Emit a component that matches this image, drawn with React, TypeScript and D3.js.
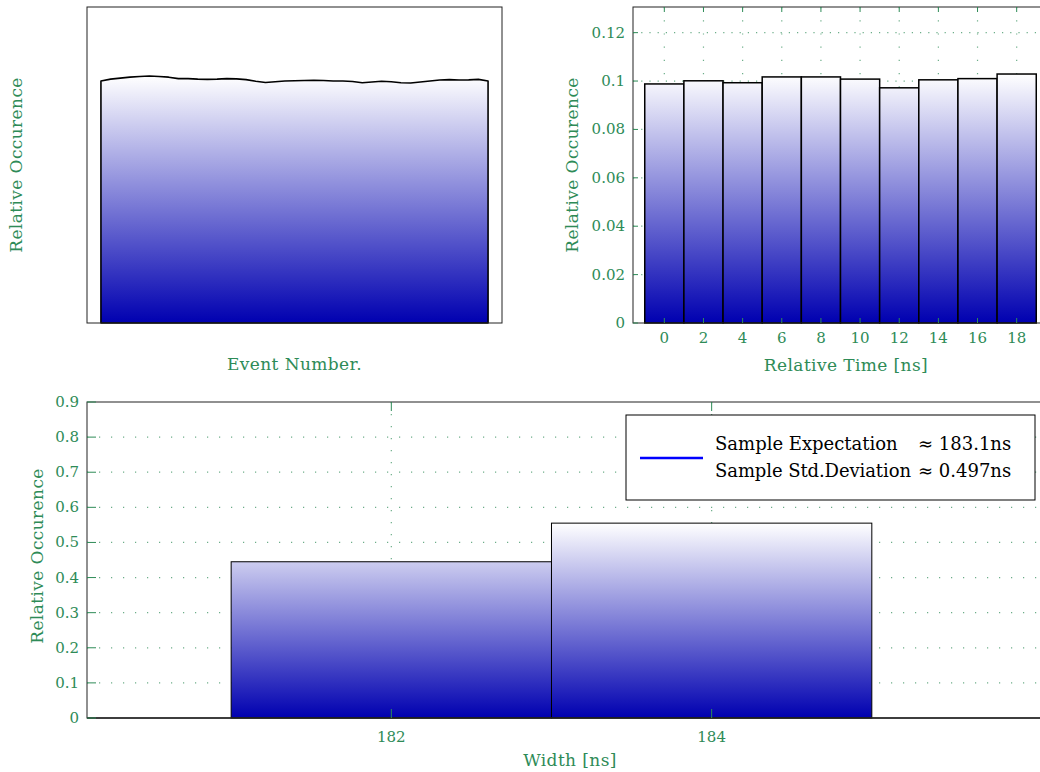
import React from "react";
import * as d3 from "d3";

// top-left: relative occurrence over event number (sampled every 25 events)
const eventNumbers = d3.range(0, 1001, 25);
const eventOccurrence = [
  0.1, 0.1008, 0.1012, 0.1016, 0.1019, 0.1021, 0.1019, 0.1016, 0.101, 0.101,
  0.1008, 0.1007, 0.1008, 0.101, 0.1009, 0.1006, 0.0999, 0.0994, 0.0997, 0.1,
  0.1001, 0.1002, 0.1003, 0.1002, 0.1, 0.1, 0.0998, 0.0993, 0.0996, 0.0999,
  0.0997, 0.0993, 0.0992, 0.0996, 0.1, 0.1004, 0.1006, 0.1004, 0.1005, 0.1007,
  0.1,
];

// top-right: relative time histogram
const timeBins = [0, 2, 4, 6, 8, 10, 12, 14, 16, 18];
const timeOccurrence = [0.0988, 0.1001, 0.0993, 0.1017, 0.1017, 0.1008, 0.0972, 0.1005, 0.101, 0.1029];
const timeYTicks = [0, 0.02, 0.04, 0.06, 0.08, 0.1, 0.12];
const timeYLabels = ["0", "0.02", "0.04", "0.06", "0.08", "0.1", "0.12"];

// bottom: width histogram
const widthBins = [182, 184];
const widthOccurrence = [0.445, 0.555];
const widthXTicks = [182, 184];
const widthYTicks = [0, 0.1, 0.2, 0.3, 0.4, 0.5, 0.6, 0.7, 0.8, 0.9];

const legendLines = [
  ["Sample Expectation", "\u2248 183.1ns"],
  ["Sample Std.Deviation", "\u2248 0.497ns"],
];

const GREEN = "#2e8b57";
const FONT = "DejaVu Serif";

const App = () => {
  // panel boxes
  const tl = { x0: 87, x1: 502, y0: 7, y1: 323 };
  const tr = { x0: 633, x1: 1048, y0: 7, y1: 323 };
  const bt = { x0: 87, x1: 1048, y0: 402, y1: 718 };

  const xTL = d3.scaleLinear().domain([-36, 1036]).range([tl.x0, tl.x1]);
  const yTL = d3.scaleLinear().domain([0, 0.1306]).range([tl.y1, tl.y0]);

  const xTR = d3.scaleLinear().domain([-1.6, 19.6]).range([tr.x0, tr.x1]);
  const yTR = d3.scaleLinear().domain([0, 0.1306]).range([tr.y1, tr.y0]);

  const xB = d3.scaleLinear().domain([180.1, 186.1]).range([bt.x0, bt.x1]);
  const yB = d3.scaleLinear().domain([0, 0.9]).range([bt.y1, bt.y0]);

  const pts = eventNumbers.map((e, i) => [e, eventOccurrence[i]] as [number, number]);
  const area = d3
    .area<[number, number]>()
    .x((d) => xTL(d[0]))
    .y0(yTL(0))
    .y1((d) => yTL(d[1]));
  const areaPath = area(pts) as string;

  const topTL = yTL(d3.max(eventOccurrence) as number);
  const topTR = yTR(d3.max(timeOccurrence) as number);
  const topB = yB(d3.max(widthOccurrence) as number);

  const txt = { fontFamily: FONT, fill: GREEN, fontSize: 15 };
  const lab = { fontFamily: FONT, fill: GREEN, fontSize: 17, letterSpacing: 0.4 };

  return (
    <div style={{ position: "fixed", left: 0, top: 0 }}>
      <svg width={1040} height={772} style={{ display: "block", background: "#fff" }}>
        <defs>
          <linearGradient id="gTL" gradientUnits="userSpaceOnUse" x1={0} x2={0} y1={topTL} y2={tl.y1}>
            <stop offset="0" stopColor="#ffffff" />
            <stop offset="1" stopColor="#0000b0" />
          </linearGradient>
          <linearGradient id="gTR" gradientUnits="userSpaceOnUse" x1={0} x2={0} y1={topTR} y2={tr.y1}>
            <stop offset="0" stopColor="#ffffff" />
            <stop offset="1" stopColor="#0000b0" />
          </linearGradient>
          <linearGradient id="gB" gradientUnits="userSpaceOnUse" x1={0} x2={0} y1={topB} y2={bt.y1}>
            <stop offset="0" stopColor="#ffffff" />
            <stop offset="1" stopColor="#0000b0" />
          </linearGradient>
        </defs>

        {/* ---------- top-left ---------- */}
        <path d={areaPath} fill="url(#gTL)" stroke="#000" strokeWidth={1.6} strokeLinejoin="round" />
        <rect x={tl.x0} y={tl.y0} width={tl.x1 - tl.x0} height={tl.y1 - tl.y0} fill="none" stroke="#222" strokeWidth={1} />
        <text {...lab} x={(tl.x0 + tl.x1) / 2} y={370} textAnchor="middle">
          Event Number.
        </text>
        <text {...lab} textAnchor="middle" transform={`translate(22,${(tl.y0 + tl.y1) / 2}) rotate(-90)`}>
          Relative Occurence
        </text>

        {/* ---------- top-right ---------- */}
        <g>
          {timeYTicks.slice(1).map((t) => (
            <line key={"hg" + t} x1={tr.x0} x2={tr.x1} y1={yTR(t)} y2={yTR(t)} stroke={GREEN} strokeOpacity={0.7} strokeWidth={1.2} strokeDasharray="1.2,7" />
          ))}
          {timeBins.map((t) => (
            <line key={"vg" + t} x1={xTR(t)} x2={xTR(t)} y1={tr.y0} y2={tr.y1} stroke={GREEN} strokeOpacity={0.7} strokeWidth={1.2} strokeDasharray="1.2,12" />
          ))}
          {timeBins.map((t, i) => (
            <rect
              key={"b" + t}
              x={xTR(t - 1)}
              y={yTR(timeOccurrence[i])}
              width={xTR(t + 1) - xTR(t - 1)}
              height={yTR(0) - yTR(timeOccurrence[i])}
              fill="url(#gTR)"
              stroke="#000"
              strokeWidth={1.5}
            />
          ))}
          <rect x={tr.x0} y={tr.y0} width={tr.x1 - tr.x0} height={tr.y1 - tr.y0} fill="none" stroke="#222" strokeWidth={1} />
          {timeBins.map((t) => (
            <g key={"xt" + t}>
              <line x1={xTR(t)} x2={xTR(t)} y1={tr.y1} y2={tr.y1 - 5} stroke={GREEN} strokeWidth={1} />
              <line x1={xTR(t)} x2={xTR(t)} y1={tr.y0} y2={tr.y0 + 5} stroke={GREEN} strokeWidth={1} />
              <text {...txt} x={xTR(t)} y={tr.y1 + 20} textAnchor="middle">
                {t}
              </text>
            </g>
          ))}
          {timeYTicks.map((t, i) => (
            <g key={"yt" + t}>
              <line x1={tr.x0} x2={tr.x0 + 5} y1={yTR(t)} y2={yTR(t)} stroke={GREEN} strokeWidth={1} />
              <text {...txt} x={tr.x0 - 8} y={yTR(t) + 5} textAnchor="end">
                {timeYLabels[i]}
              </text>
            </g>
          ))}
          <text {...lab} x={846} y={371} textAnchor="middle">
            Relative Time [ns]
          </text>
          <text {...lab} textAnchor="middle" transform={`translate(578,${(tr.y0 + tr.y1) / 2}) rotate(-90)`}>
            Relative Occurence
          </text>
        </g>

        {/* ---------- bottom ---------- */}
        <g>
          {widthYTicks.slice(1, -1).map((t) => (
            <line key={"hg" + t} x1={bt.x0} x2={bt.x1} y1={yB(t)} y2={yB(t)} stroke={GREEN} strokeOpacity={0.7} strokeWidth={1.2} strokeDasharray="1.2,10.8" />
          ))}
          {widthXTicks.map((t) => (
            <line key={"vg" + t} x1={xB(t)} x2={xB(t)} y1={bt.y0} y2={bt.y1} stroke={GREEN} strokeOpacity={0.7} strokeWidth={1.2} strokeDasharray="1.2,10.8" />
          ))}
          {widthBins.map((t, i) => (
            <rect
              key={"b" + t}
              x={xB(t - 1)}
              y={yB(widthOccurrence[i])}
              width={xB(t + 1) - xB(t - 1)}
              height={yB(0) - yB(widthOccurrence[i])}
              fill="url(#gB)"
              stroke="#000"
              strokeWidth={1}
            />
          ))}
          <rect x={bt.x0} y={bt.y0} width={bt.x1 - bt.x0} height={bt.y1 - bt.y0} fill="none" stroke="#222" strokeWidth={1} />
          <line x1={bt.x0} x2={bt.x1} y1={bt.y1} y2={bt.y1} stroke="#222" strokeWidth={1.6} />
          {widthXTicks.map((t) => (
            <g key={"xt" + t}>
              <line x1={xB(t)} x2={xB(t)} y1={bt.y1} y2={bt.y1 - 9} stroke={GREEN} strokeWidth={1} />
              <line x1={xB(t)} x2={xB(t)} y1={bt.y0} y2={bt.y0 + 9} stroke={GREEN} strokeWidth={1} />
              <text {...txt} x={xB(t)} y={bt.y1 + 24} textAnchor="middle">
                {t}
              </text>
            </g>
          ))}
          {widthYTicks.map((t) => (
            <g key={"yt" + t}>
              <line x1={bt.x0} x2={bt.x0 + 9} y1={yB(t)} y2={yB(t)} stroke={GREEN} strokeWidth={1} />
              <text {...txt} x={bt.x0 - 8} y={yB(t) + 5} textAnchor="end">
                {d3.format("~g")(t)}
              </text>
            </g>
          ))}
          <text {...lab} x={570} y={766} textAnchor="middle">
            Width [ns]
          </text>
          <text {...lab} textAnchor="middle" transform={`translate(43,${(bt.y0 + bt.y1) / 2 - 4}) rotate(-90)`}>
            Relative Occurence
          </text>

          {/* legend */}
          <rect x={626} y={415} width={409} height={85} fill="#fff" stroke="#000" strokeWidth={1} />
          <line x1={640} x2={703} y1={458} y2={458} stroke="#0000ff" strokeWidth={2.5} />
          {legendLines.map((l, i) => (
            <text key={i} fontFamily={FONT} fontSize={18} fill="#000" y={450 + i * 27}>
              <tspan x={715} textLength={i === 1 ? 196 : undefined}>{l[0]}</tspan>
              <tspan x={918}>{l[1]}</tspan>
            </text>
          ))}
        </g>
      </svg>
    </div>
  );
};

export default App;
